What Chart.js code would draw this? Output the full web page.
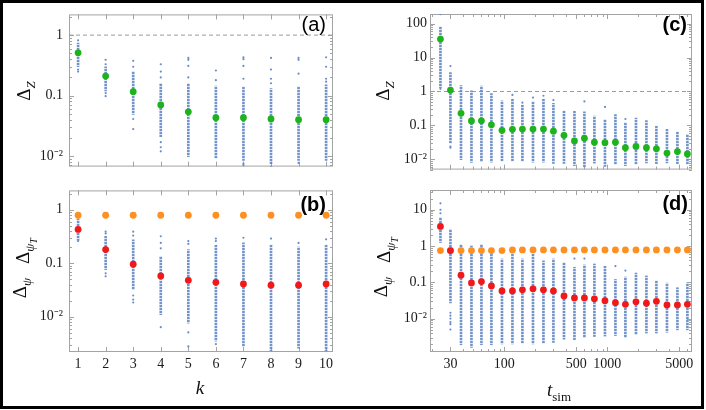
<!DOCTYPE html>
<html>
<head>
<meta charset="utf-8">
<script src="https://cdn.jsdelivr.net/npm/chart.js@4/dist/chart.umd.min.js"></script>
<style>
body { margin: 0; background: #fff; }
#fig { position: relative; width: 706px; height: 410px; overflow: hidden; }
#fig canvas { position: absolute; }
#border { position: absolute; left: 0; top: 0; width: 704px; height: 409px; box-sizing: border-box; border: 3px solid #000; }
.yt, .xt { position: absolute; font-family: "Liberation Serif", serif; font-size: 19px; line-height: 19px; white-space: nowrap; color: #111; }
.yt { transform: translate(-50%, -50%) rotate(-90deg); }
.xt { transform: translate(-50%, -50%); }
.s { position: relative; font-size: 13px; top: 5px; }
.ss { position: relative; font-size: 10px; top: 8px; }
.it { font-style: italic; }
.lab { position: absolute; font-family: "Liberation Sans", Arial, sans-serif; font-size: 20px; line-height: 20px; color: #000; }
</style>
</head>
<body>
<div id="fig">
  <canvas id="pa" width="340" height="181" style="left:0;top:0"></canvas>
  <canvas id="pb" width="340" height="234" style="left:0;top:176px"></canvas>
  <canvas id="pc" width="343" height="181" style="left:355px;top:0"></canvas>
  <canvas id="pd" width="343" height="234" style="left:355px;top:176px"></canvas>

  <div class="yt" style="left:24px;top:91px">Δ<span class="s it">Z</span></div>
  <div class="yt" style="left:383px;top:91px">Δ<span class="s it">Z</span></div>
  <div class="yt" style="left:20px;top:288px">Δ<span class="s it">ψ</span></div>
  <div class="yt" style="left:24px;top:251px">Δ<span class="s it">ψ</span><span class="ss it">T</span></div>
  <div class="yt" style="left:381px;top:287px">Δ<span class="s it">ψ</span></div>
  <div class="yt" style="left:385px;top:250px">Δ<span class="s it">ψ</span><span class="ss it">T</span></div>
  <div class="xt it" style="left:200px;top:387px">k</div>
  <div class="xt" style="left:559px;top:390px"><span class="it">t</span><span class="s">sim</span></div>

  <div class="lab" style="right:380px;top:14px">(a)</div>
  <div class="lab" style="right:380px;top:194px;font-weight:bold">(b)</div>
  <div class="lab" style="right:19px;top:14px;font-weight:bold">(c)</div>
  <div class="lab" style="right:18px;top:193px;font-weight:bold">(d)</div>

  <div id="border"></div>
</div>
<script>
// ---- data: left panels, against k ----
const K = [1, 2, 3, 4, 5, 6, 7, 8, 9, 10];
const zMedK = [0.51, 0.21, 0.116, 0.070, 0.054, 0.043, 0.043, 0.041, 0.040, 0.040];
const zLoK = [0.30, 0.12, 0.049, 0.021, 0.0098, 0.0092, 0.0085, 0.0075, 0.0085, 0.0085];
const zHiK = [0.74, 0.30, 0.25, 0.16, 0.16, 0.144, 0.14, 0.13, 0.14, 0.15];
const zOutK = [[0.82, 0.27, 0.25], [0.39, 0.33, 0.11, 0.098], [0.376, 0.30, 0.041, 0.028],
  [0.33, 0.25, 0.2, 0.017, 0.014, 0.012], [0.42, 0.39, 0.31, 0.2], [0.26, 0.18],
  [0.43, 0.40, 0.31, 0.19, 0.0075, 0.0071], [0.42, 0.27, 0.19, 0.16, 0.0067],
  [0.42, 0.39, 0.23, 0.0077], [0.43, 0.30, 0.19, 0.17]];

const psiMedK = [0.43, 0.18, 0.096, 0.058, 0.048, 0.044, 0.041, 0.039, 0.039, 0.041];
const psiTK = [0.79, 0.79, 0.79, 0.79, 0.79, 0.79, 0.79, 0.79, 0.79, 0.79];
const psiLoK = [0.27, 0.076, 0.032, 0.011, 0.0076, 0.0035, 0.0028, 0.0023, 0.0026, 0.0023];
const psiHiK = [0.68, 0.32, 0.275, 0.134, 0.18, 0.22, 0.24, 0.22, 0.20, 0.22];
const psiOutK = [[0.26], [0.39, 0.36, 0.065, 0.057], [0.39, 0.33, 0.025, 0.021, 0.0185],
  [0.32, 0.24, 0.19, 0.0064], [0.26, 0.23, 0.0051, 0.0028], [0.29, 0.26, 0.0031],
  [0.30], [0.29], [0.24], [0.28]];

// ---- data: right panels, against t_sim ----
const T = [24, 30, 38, 48, 60, 75, 95, 120, 150, 190, 240, 300, 380, 480, 600, 750, 950,
  1200, 1500, 1900, 2400, 3000, 3800, 4800, 6000];
const zMedT = [35, 1.1, 0.227, 0.135, 0.137, 0.104, 0.072, 0.077, 0.078, 0.078, 0.078, 0.068,
  0.051, 0.035, 0.042, 0.032, 0.031, 0.032, 0.022, 0.024, 0.022, 0.0205, 0.0153, 0.017, 0.0145];
const zLoT = [1.3, 0.03, 0.0098, 0.0081, 0.0085, 0.0083, 0.0088, 0.0088, 0.0088, 0.0083, 0.0083,
  0.0076, 0.0076, 0.0065, 0.0059, 0.0078, 0.0062, 0.0072, 0.0065, 0.0072, 0.0079, 0.0075,
  0.0079, 0.0075, 0.0072];
const zHiT = [80, 3.6, 1.5, 1.04, 1.45, 0.87, 0.53, 0.6, 0.4, 0.5, 0.6, 0.45, 0.27, 0.26, 0.25,
  0.19, 0.15, 0.21, 0.12, 0.164, 0.138, 0.096, 0.077, 0.065, 0.055];
const zOutT = [[190, 1.2], [5.6, 0.024, 0.022], [], [], [], [], [], [0.79], [0.47], [0.66],
  [0.75], [0.56], [], [], [0.51], [], [0.35], [], [0.155], [], [], [], [], [], []];

const psiMedT = [3.46, 0.75, 0.157, 0.096, 0.105, 0.079, 0.058, 0.058, 0.062, 0.066, 0.062,
  0.058, 0.042, 0.037, 0.037, 0.035, 0.031, 0.0275, 0.0248, 0.029, 0.0265, 0.030, 0.0238,
  0.0238, 0.0248];
const psiTT = [0.75, 0.75, 0.75, 0.75, 0.75, 0.75, 0.75, 0.78, 0.78, 0.78, 0.78, 0.78, 0.78,
  0.78, 0.78, 0.78, 0.78, 0.78, 0.78, 0.78, 0.78, 0.78, 0.78, 0.78, 0.78];
const psiLoT = [1.25, 0.027, 0.0019, 0.0016, 0.0019, 0.0019, 0.002, 0.002, 0.0021, 0.002,
  0.0021, 0.0022, 0.0027, 0.0026, 0.003, 0.0032, 0.0033, 0.0034, 0.003, 0.0036, 0.004,
  0.004, 0.0042, 0.0049, 0.0049];
const psiHiT = [6.1, 2.9, 1.1, 1.0, 1.1, 0.82, 0.44, 0.66, 0.44, 0.6, 0.39, 0.44, 0.35, 0.26,
  0.3, 0.32, 0.28, 0.12, 0.14, 0.18, 0.15, 0.11, 0.095, 0.071, 0.095];
const psiOutT = [[15, 10, 8], [0.0145, 0.012, 0.01, 0.008, 0.007, 0.005], [], [], [], [], [],
  [], [], [], [], [], [], [0.45], [0.45], [], [], [0.28], [0.21], [], [], [], [], [], []];

// tick labels
const yLabelVals = [100, 10, 1, 0.1, 0.01];
const yLabelText = ['100', '10', '1', '0.1', '10⁻²'];
const tLabelVals = [30, 100, 500, 1000, 5000];

const BLUE = '#6b8dc6';
const GREEN = '#1cb31c';
const RED = '#f01818';
const ORANGE = '#ff8f1f';
const FRAME = '#a3a3a3';

// the dense part of each cloud is drawn as a thin bar filled with a dotted pattern
function dotPattern() {
  const c = document.createElement('canvas');
  c.width = 2; c.height = 3;
  const g = c.getContext('2d');
  g.fillStyle = 'rgba(100,136,196,0.9)';
  g.fillRect(0, 0, 2, 2);
  g.fillStyle = 'rgba(100,136,196,0.25)';
  g.fillRect(0, 2, 2, 1);
  return g.createPattern(c, 'repeat');
}
const BLUE_CORE = dotPattern();

function pts(xs, ys) { return xs.map((x, i) => ({x: x, y: ys[i]})); }
function bars(xs, lo, hi) { return xs.map((x, i) => ({x: x, y: [lo[i], hi[i]]})); }
function outs(xs, lists) {
  const r = [];
  lists.forEach((l, i) => l.forEach(v => r.push({x: xs[i], y: v})));
  return r;
}
function isDecade(v) { const l = Math.log10(v); return Math.abs(l - Math.round(l)) < 1e-6; }
function logMarks(min, max) {
  const out = [];
  for (let e = Math.floor(Math.log10(min)); e <= Math.ceil(Math.log10(max)); e++) {
    for (let m = 1; m < 10; m++) {
      const v = m * Math.pow(10, e);
      if (v >= min && v <= max) out.push({value: v});
    }
  }
  return out;
}

// frame with inward ticks on all four sides, like the original
const framePlugin = {
  id: 'frame',
  beforeDatasetsDraw(chart) {
    const {ctx, chartArea: a} = chart;
    const x = chart.scales.x, y = chart.scales.y;
    const major = chart.options.plugins.frame.xMajor;
    ctx.save();
    ctx.strokeStyle = FRAME;
    ctx.lineWidth = 1;
    ctx.strokeRect(a.left + 0.5, a.top + 0.5, a.right - a.left - 1, a.bottom - a.top - 1);
    ctx.beginPath();
    x.ticks.forEach(t => {
      const px = Math.round(x.getPixelForValue(t.value)) + 0.5;
      const len = major.includes(t.value) ? 5 : 3;
      ctx.moveTo(px, a.bottom); ctx.lineTo(px, a.bottom - len);
      ctx.moveTo(px, a.top); ctx.lineTo(px, a.top + len);
    });
    y.ticks.forEach(t => {
      const py = Math.round(y.getPixelForValue(t.value)) + 0.5;
      const len = isDecade(t.value) ? 5 : 3;
      ctx.moveTo(a.left, py); ctx.lineTo(a.left + len, py);
      ctx.moveTo(a.right, py); ctx.lineTo(a.right - len, py);
    });
    ctx.stroke();
    ctx.restore();
  }
};

function panel(id, o) {
  const ds = [];
  if (o.dashed) {
    ds.push({type: 'line', data: [{x: o.xMin, y: 1}, {x: o.xMax, y: 1}], borderColor: '#9a9a9a',
      borderWidth: 1, borderDash: [4, 3], pointRadius: 0, order: 5});
  }
  ds.push({type: 'bar', data: bars(o.xs, o.lo, o.hi), backgroundColor: BLUE_CORE,
    barThickness: 2, borderWidth: 0, grouped: false, order: 4});
  ds.push({type: 'scatter', data: outs(o.xs, o.out), backgroundColor: BLUE, pointRadius: 1.1,
    borderWidth: 0, order: 3});
  if (o.top) {
    ds.push({type: 'scatter', data: pts(o.xs, o.top), backgroundColor: ORANGE, pointRadius: 3.4,
      borderWidth: 0, order: 2});
  }
  ds.push({type: 'scatter', data: pts(o.xs, o.med), backgroundColor: o.medColor, pointRadius: 3.4,
    borderWidth: 0, order: 1});

  const isLogX = o.xType === 'logarithmic';
  return new Chart(document.getElementById(id), {
    type: 'scatter',
    data: {datasets: ds},
    options: {
      responsive: false,
      animation: false,
      devicePixelRatio: 1,
      layout: {autoPadding: false, padding: {top: o.padTop, right: o.padRight, left: 0, bottom: 0}},
      plugins: {legend: {display: false}, tooltip: {enabled: false}, frame: {xMajor: o.xMajor}},
      scales: {
        x: {
          type: o.xType, min: o.xMin, max: o.xMax, offset: false,
          grid: {display: false, drawTicks: false, offset: false},
          border: {display: false},
          afterBuildTicks: s => { s.ticks = isLogX ? logMarks(o.xMin, o.xMax) : o.xs.map(v => ({value: v})); },
          afterFit: s => { s.height = o.xH; },
          ticks: {
            display: o.xLabels, autoSkip: false, maxRotation: 0, padding: 4, color: '#1a1a1a',
            font: {family: 'Liberation Serif', size: 14},
            callback: v => isLogX ? (tLabelVals.includes(v) ? String(v) : '') : String(v)
          }
        },
        y: {
          type: 'logarithmic', min: o.yMin, max: o.yMax,
          grid: {display: false, drawTicks: false},
          border: {display: false},
          afterBuildTicks: s => { s.ticks = logMarks(o.yMin, o.yMax); },
          afterFit: s => { s.width = o.yW; },
          ticks: {
            autoSkip: false, padding: o.yPad, color: '#1a1a1a',
            font: {family: 'Liberation Serif', size: 14},
            callback: v => {
              const i = yLabelVals.findIndex(u => Math.abs(Math.log10(u) - Math.log10(v)) < 1e-6);
              return i < 0 ? '' : yLabelText[i];
            }
          }
        }
      }
    },
    plugins: [framePlugin]
  });
}

panel('pa', {xs: K, xType: 'linear', xMin: 0.67, xMax: 10.25, xMajor: K, xLabels: false,
  yMin: 0.0067, yMax: 2.2, yW: 69, yPad: 6, padTop: 14, padRight: 7, xH: 5, dashed: true,
  lo: zLoK, hi: zHiK, out: zOutK, med: zMedK, medColor: GREEN});
panel('pb', {xs: K, xType: 'linear', xMin: 0.67, xMax: 10.25, xMajor: K, xLabels: true,
  yMin: 0.0022, yMax: 2.3, yW: 69, yPad: 6, padTop: 14, padRight: 7, xH: 58,
  lo: psiLoK, hi: psiHiK, out: psiOutK, med: psiMedK, top: psiTK, medColor: RED});
panel('pc', {xs: T, xType: 'logarithmic', xMin: 19, xMax: 6650, xMajor: tLabelVals, xLabels: false,
  yMin: 0.005, yMax: 192, yW: 75, yPad: 3, padTop: 14, padRight: 6, xH: 5, dashed: true,
  lo: zLoT, hi: zHiT, out: zOutT, med: zMedT, medColor: GREEN});
panel('pd', {xs: T, xType: 'logarithmic', xMin: 19, xMax: 6650, xMajor: tLabelVals, xLabels: true,
  yMin: 0.0012, yMax: 35, yW: 75, yPad: 3, padTop: 14, padRight: 6, xH: 58,
  lo: psiLoT, hi: psiHiT, out: psiOutT, med: psiMedT, top: psiTT, medColor: RED});
</script>
</body>
</html>
